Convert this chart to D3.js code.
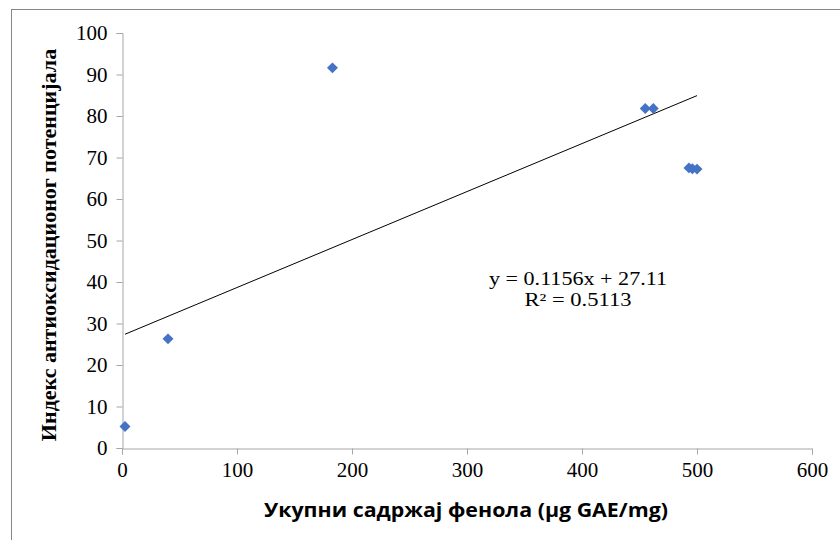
<!DOCTYPE html>
<html>
<head>
<meta charset="utf-8">
<script src="https://cdn.jsdelivr.net/npm/d3@7"></script>
<style>
  html, body { margin: 0; padding: 0; background: #fff; }
  svg { display: block; }
</style>
</head>
<body>
<svg id="chart" width="840" height="540"></svg>
<script>
// Total phenol content vs. antioxidant potential index
const phenols = [2.6, 40, 183, 455, 462, 493, 496, 500];
const index   = [5.2, 26.3, 91.6, 81.8, 81.8, 67.5, 67.3, 67.2];
const xTicks = [0, 100, 200, 300, 400, 500, 600];
const yTicks = [0, 10, 20, 30, 40, 50, 60, 70, 80, 90, 100];
const slope = 0.1156, intercept = 27.11, r2 = 0.5113;

const svg = d3.select("#chart");

// outer chart frame
svg.append("rect")
  .attr("x", 11.5).attr("y", 9.5)
  .attr("width", 840).attr("height", 540)
  .attr("fill", "none").attr("stroke", "#868686").attr("stroke-width", 1);

const x = d3.scaleLinear().domain([0, 600]).range([122, 812]);
const y = d3.scaleLinear().domain([0, 100]).range([448, 33]);

const serif = "'Liberation Serif', 'Times New Roman', serif";

// y axis
const yAxis = svg.append("g")
  .attr("transform", "translate(122.5,0)")
  .call(d3.axisLeft(y).tickValues(yTicks).tickSize(6).tickPadding(9).tickFormat(d3.format("d")));
// x axis
const xAxis = svg.append("g")
  .attr("transform", "translate(0,448.5)")
  .call(d3.axisBottom(x).tickValues(xTicks).tickSize(6).tickPadding(8).tickFormat(d3.format("d")));

[yAxis, xAxis].forEach(g => {
  g.select(".domain").attr("stroke", "#a6a6a6");
  g.selectAll(".tick line").attr("stroke", "#a6a6a6");
  g.selectAll(".tick text")
    .attr("fill", "#000")
    .style("font-family", serif)
    .style("font-size", "21px");
});

// trendline over the data range
const xmin = d3.min(phenols), xmax = d3.max(phenols);
svg.append("line")
  .attr("x1", x(xmin)).attr("y1", y(slope * xmin + intercept))
  .attr("x2", x(xmax)).attr("y2", y(slope * xmax + intercept))
  .attr("stroke", "#000").attr("stroke-width", 1);

// data points (diamonds)
svg.append("g").selectAll("path")
  .data(phenols.map((v, i) => [v, index[i]]))
  .join("path")
  .attr("d", d3.symbol().type(d3.symbolSquare).size(60)())
  .attr("transform", d => `translate(${x(d[0])},${y(d[1])}) rotate(45)`)
  .attr("fill", "#4472C4");

// regression equation
svg.append("text")
  .attr("x", 578).attr("y", 285)
  .attr("text-anchor", "middle")
  .attr("textLength", 178).attr("lengthAdjust", "spacingAndGlyphs")
  .style("font-family", serif).style("font-size", "18px")
  .text(`y = ${slope}x + ${intercept}`);
svg.append("text")
  .attr("x", 578).attr("y", 306)
  .attr("text-anchor", "middle")
  .attr("textLength", 107).attr("lengthAdjust", "spacingAndGlyphs")
  .style("font-family", serif).style("font-size", "18px")
  .text(`R² = ${r2}`);

// axis titles
svg.append("text")
  .attr("x", 466).attr("y", 517)
  .attr("text-anchor", "middle")
  .attr("textLength", 404).attr("lengthAdjust", "spacingAndGlyphs")
  .style("font-family", "'Open Sans', 'Liberation Sans', sans-serif")
  .style("font-weight", "bold").style("font-size", "19px")
  .text("Укупни садржај фенола (µg GAE/mg)");

svg.append("text")
  .attr("transform", "translate(56,245) rotate(-90)")
  .attr("text-anchor", "middle")
  .style("font-family", serif)
  .style("font-weight", "bold").style("font-size", "22px")
  .text("Индекс антиоксидационог потенцијала");
</script>
</body>
</html>
